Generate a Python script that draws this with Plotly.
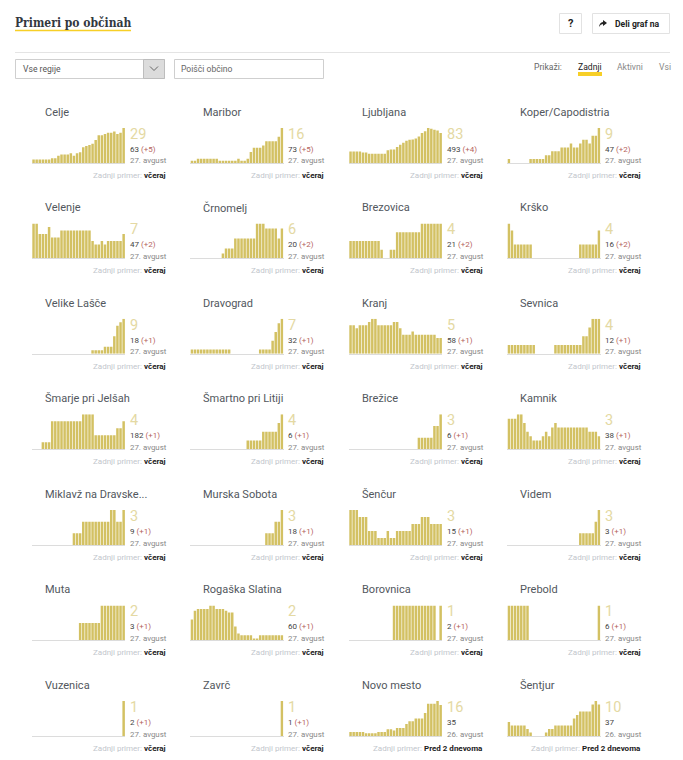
import plotly.graph_objects as go

names = ["Celje","Maribor","Ljubljana","Koper/Capodistria","Velenje","Črnomelj","Brezovica","Krško",
         "Velike Lašče","Dravograd","Kranj","Sevnica","Šmarje pri Jelšah","Šmartno pri Litiji","Brežice","Kamnik",
         "Miklavž na Dravske...","Murska Sobota","Šenčur","Videm","Muta","Rogaška Slatina","Borovnica","Prebold",
         "Vuzenica","Zavrč","Novo mesto","Šentjur"]
latest = [29,16,83,9,7,6,4,4,9,7,5,4,4,4,3,3,3,3,3,3,2,2,1,1,1,1,16,10]
totals = [63,73,493,47,47,20,21,16,18,32,58,12,182,6,6,38,9,18,15,3,3,60,2,6,2,1,35,37]
deltas = [5,5,4,2,2,2,2,2,1,1,1,1,1,1,1,1,1,1,1,1,1,1,1,1,1,1,0,0]
dates = ["27. avgust"]*26 + ["26. avgust"]*2
last_case = ["včeraj"]*26 + ["Pred 2 dnevoma"]*2

celje = [3,3,3,3,3,3,4,4,6,7,7,7,8,6,8,9,13,14,15,16,19,23,23,24,25,25,26,24,25,29]
maribor = [1,1,2,2,2,2,2,2,2,1,1,1,1,1,1,2,1,1,2,5,7,7,7,8,10,10,10,10,12,16]
ljubljana = [27,27,27,27,25,25,22,22,22,22,22,22,30,32,32,38,43,48,53,55,56,58,63,71,75,83,81,79,77,71]
koper = [1,0,0,0,0,0,0,1,1,1,1,1,2,2,3,3,3,4,4,4,5,4,4,5,6,6,5,7,7,9]
velenje = [10,10,7,7,7,9,6,6,6,8,8,8,8,8,8,8,8,8,8,5,4,4,5,4,5,5,5,5,5,7]
crnomelj = [0,0,0,0,0,0,0,0,0,0,1,2,2,2,4,4,4,4,4,4,4,7,7,7,6,6,6,6,4,6]
brezovica = [2,2,2,2,2,2,2,2,2,2,1,0,0,1,1,3,3,3,3,3,3,3,3,4,4,4,4,4,4,4]
krsko = [5,4,2,2,2,2,2,2,0,0,0,0,0,0,0,0,0,0,0,0,0,0,0,2,2,2,2,2,2,4]
velike_lasce = [0,0,0,0,0,0,0,0,0,0,0,0,0,0,0,0,0,0,0,1,1,1,1,2,2,2,5,8,9,10]
dravograd = [1,1,1,1,1,1,1,1,1,1,1,1,1,0,0,0,0,0,0,0,0,0,1,1,1,1,3,5,7,8]
kranj = [9,9,8,9,9,9,10,11,11,9,9,9,9,9,10,10,8,6,6,6,7,6,6,6,6,6,6,6,5,5]
sevnica = [1,1,1,1,1,1,1,1,1,0,0,0,0,0,0,1,1,1,1,1,1,1,1,1,2,2,3,4,4,4]
smarje = [0,0,0,1,1,1,4,4,4,4,4,4,4,4,4,4,5,5,5,5,2,2,2,2,2,2,2,3,3,4]
smartno = [0,0,0,0,0,0,0,0,0,0,0,0,0,0,0,0,0,0,1,1,1,1,1,2,2,2,2,2,3,4]
brezice = [0,0,0,0,0,0,0,0,0,0,0,0,0,0,0,0,0,0,0,0,0,0,1,1,1,1,1,2,2,3]
kamnik = [7,7,7,8,8,6,4,3,2,2,2,3,4,3,5,6,5,5,5,5,5,5,5,5,5,5,4,4,4,3]
miklavz = [0,0,0,0,0,0,0,0,0,0,0,0,0,1,1,1,2,2,2,2,2,2,2,2,2,3,3,2,2,3]
murska_sobota = [0,0,0,0,0,0,0,0,0,0,0,0,0,0,0,0,0,0,0,0,0,0,0,0,1,1,1,2,2,3]
sencur = [5,5,5,4,4,4,2,2,2,1,1,1,2,1,1,2,2,2,2,2,3,3,3,4,4,4,3,3,3,3]
videm = [0,0,0,0,0,0,0,0,0,0,0,0,0,0,0,0,0,0,0,0,0,0,0,1,1,1,1,1,2,3]
muta = [0,0,0,0,0,0,0,0,0,0,0,0,0,0,0,1,1,1,1,1,1,1,2,2,2,2,2,2,2,2]
rogaska = [12,17,18,18,18,18,20,20,18,18,18,17,16,16,8,4,3,3,3,3,1,1,3,3,3,3,3,3,3,3]
borovnica = [0,0,0,0,0,0,0,0,0,0,0,0,0,0,1,1,1,1,1,1,1,1,1,1,1,1,1,1,0,1]
prebold = [1,1,1,1,1,1,1,0,0,0,0,0,0,0,0,0,0,0,0,0,0,0,0,0,0,0,0,0,0,1]
vuzenica = [0,0,0,0,0,0,0,0,0,0,0,0,0,0,0,0,0,0,0,0,0,0,0,0,0,0,0,0,0,1]
zavrc = [0,0,0,0,0,0,0,0,0,0,0,0,0,0,0,0,0,0,0,0,0,0,0,0,0,0,0,0,0,1]
novo_mesto = [3,3,3,3,3,2,2,2,2,3,3,3,5,5,4,6,6,6,9,11,11,13,13,13,17,24,24,24,26,23]
sentjur = [4,3,3,3,3,3,2,1,0,0,0,0,1,2,2,3,3,3,3,3,3,5,6,7,7,7,7,9,10,9]

series = [celje,maribor,ljubljana,koper,velenje,crnomelj,brezovica,krsko,velike_lasce,dravograd,kranj,sevnica,
          smarje,smartno,brezice,kamnik,miklavz,murska_sobota,sencur,videm,muta,rogaska,borovnica,prebold,
          vuzenica,zavrc,novo_mesto,sentjur]
days = list(range(30))

W, H = 683, 760
FONT = "Roboto"
BAR = "#d3c163"
def fx(x): return x / W
def fy(y): return 1 - y / H

col_left = [32, 190.3, 349, 507.3]
BAR_W = 93.2
row_base = [163, 258.4, 353.8, 449.3, 545, 640.4, 736]
BAR_H = 35

fig = go.Figure()
ann = []
shapes = []

def text(x, y, s, size=11, color="#444", anchor="left", family=FONT):
    ann.append(dict(x=fx(x), y=fy(y), xref="paper", yref="paper", text=s, showarrow=False,
                    xanchor=anchor, yanchor="middle", align=anchor,
                    font=dict(family=family, size=size, color=color),
                    borderpad=0, borderwidth=0))

def rect(x0, y0, x1, y1, fill="rgba(0,0,0,0)", line="#ccc", lw=1):
    shapes.append(dict(type="rect", xref="paper", yref="paper", x0=fx(x0), x1=fx(x1), y0=fy(y0), y1=fy(y1),
                       fillcolor=fill, line=dict(color=line, width=lw), layer="below"))

layout_axes = {}
for i, vals in enumerate(series):
    r, c = i // 4, i % 4
    n = i + 1
    xa, ya = f"x{n}", f"y{n}"
    left, base = col_left[c], row_base[r]
    fig.add_trace(go.Bar(x=days, y=vals, xaxis=xa, yaxis=ya, marker=dict(color=BAR, line=dict(width=0)),
                         showlegend=False, hoverinfo="y"))
    layout_axes[f"xaxis{n}"] = dict(domain=[fx(left), fx(left + BAR_W)], range=[-0.5, 29.5], anchor=ya,
                                    showgrid=False, zeroline=False, showticklabels=False, ticks="",
                                    showline=True, linecolor="#dcdcdc", linewidth=1, fixedrange=True)
    layout_axes[f"yaxis{n}"] = dict(domain=[fy(base), fy(base - BAR_H)], range=[0, max(vals)], anchor=xa,
                                    showgrid=False, zeroline=False, showticklabels=False, ticks="",
                                    showline=False, fixedrange=True)
    tx = left + 98
    text(left + 12.5, base - 50.5, names[i], size=11, color="#52575d")
    text(tx, base - 28.5, str(latest[i]), size=14.5, color="#e4d9a3")
    d = f' <span style="color:#b5635d">(+{deltas[i]})</span>' if deltas[i] else ""
    text(tx, base - 13.5, f"{totals[i]}{d}", size=8, color="#444")
    text(tx, base - 2, dates[i], size=7.9, color="#888")
    text(left + 133.5, base + 12.5,
         f'<span style="color:#c2c6cc">Zadnji primer:</span> <b style="color:#1b1b1b">{last_case[i]}</b>',
         size=8, color="#c2c6cc", anchor="right")

# page chrome
text(15, 23, "<b>Primeri po občinah</b>", size=12, color="#33383f", family="DejaVu Serif Condensed")
shapes.append(dict(type="line", xref="paper", yref="paper", x0=fx(15), x1=fx(131), y0=fy(30.5), y1=fy(30.5),
                   line=dict(color="#f7cf27", width=1.6)))
shapes.append(dict(type="line", xref="paper", yref="paper", x0=fx(15), x1=fx(670), y0=fy(52.5), y1=fy(52.5),
                   line=dict(color="#e4e4e4", width=1)))
rect(559.5, 13.5, 581.5, 33.5, fill="#fff", line="#e2e2e2")
rect(592.5, 13.5, 669.5, 33.5, fill="#fff", line="#e2e2e2")
text(570.5, 23.5, "<b>?</b>", size=11, color="#222", anchor="center")
shapes.append(dict(type="path", xref="paper", yref="paper", fillcolor="#222", line=dict(width=0),
                   path=(f"M {fx(599)} {fy(27)} Q {fx(599.5)} {fy(22.5)} {fx(603)} {fy(22)} L {fx(603)} {fy(20)} "
                         f"L {fx(607)} {fy(23)} L {fx(603)} {fy(26)} L {fx(603)} {fy(24)} Q {fx(600.5)} {fy(24)} {fx(599)} {fy(27)} Z")))
text(615, 23.5, "<b>Deli graf na</b>", size=8.6, color="#222")
rect(15.5, 59.5, 164.5, 78.5, fill="#fff", line="#cfcfcf")
rect(143.5, 59.5, 164.5, 78.5, fill="#dcdcdc", line="#bdbdbd")
shapes.append(dict(type="path", xref="paper", yref="paper",
                   path=f"M {fx(150)} {fy(66.5)} L {fx(154)} {fy(70.5)} L {fx(158)} {fy(66.5)}",
                   line=dict(color="#666", width=1)))
rect(174.5, 59.5, 323.5, 78.5, fill="#fff", line="#cfcfcf")
text(23, 69, "Vse regije", size=8.6, color="#555")
text(180.5, 69, "Poišči občino", size=8.6, color="#666")
text(534, 67.5, "Prikaži:", size=8.6, color="#666")
shapes.append(dict(type="rect", xref="paper", yref="paper", x0=fx(578), x1=fx(602), y0=fy(72), y1=fy(76),
                   fillcolor="#f7cf27", line=dict(width=0), layer="below"))
text(578, 67.5, "Zadnji", size=8.6, color="#222")
text(617, 67.5, "Aktivni", size=8.6, color="#888")
text(659, 67.5, "Vsi", size=8.6, color="#888")

fig.update_layout(width=W, height=H, margin=dict(l=0, r=0, t=0, b=0), paper_bgcolor="#fff", plot_bgcolor="#fff",
                  bargap=0.2, annotations=ann, shapes=shapes, **layout_axes)
fig.write_html("out.html", config=dict(displayModeBar=False),
               post_script="document.body.style.margin='0';document.documentElement.style.overflow='hidden';")
